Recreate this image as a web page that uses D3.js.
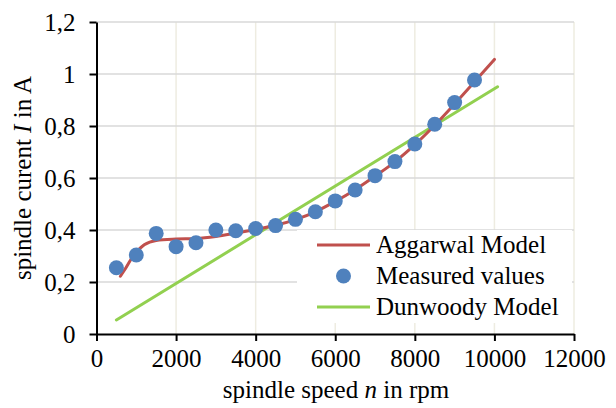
<!DOCTYPE html>
<html>
<head>
<meta charset="utf-8">
<script src="https://cdn.jsdelivr.net/npm/d3@7"></script>
<style>
  body { margin: 0; background: #fff; }
  text { font-family: "Liberation Serif", "DejaVu Serif", serif; fill: #000; }
</style>
</head>
<body>
<script>
// chart data
var measuredSpeed = [500, 1000, 1500, 2000, 2500, 3000, 3500, 4000, 4500, 5000, 5500, 6000, 6500, 7000, 7500, 8000, 8500, 9000, 9500];
var measuredCurrent = [0.255, 0.304, 0.387, 0.336, 0.351, 0.400, 0.397, 0.406, 0.417, 0.441, 0.470, 0.512, 0.554, 0.609, 0.663, 0.731, 0.807, 0.890, 0.977];

var aggarwalSpeed = [600, 700, 900, 1200, 1500, 2000, 2500, 3000, 3500, 4000, 4500, 5000, 5500, 6000, 6500, 7000, 7500, 8000, 8500, 9000, 9500, 10000];
var aggarwalCurrent = [0.222, 0.245, 0.295, 0.343, 0.360, 0.365, 0.367, 0.375, 0.388, 0.402, 0.418, 0.440, 0.470, 0.510, 0.555, 0.607, 0.662, 0.728, 0.803, 0.885, 0.970, 1.056];

var dunwoodySpeed = [500, 10080];
var dunwoodyCurrent = [0.054, 0.951];

var xTicks = [0, 2000, 4000, 6000, 8000, 10000, 12000];
var yTicks = [0, 0.2, 0.4, 0.6, 0.8, 1, 1.2];

var legendNames = ["Aggarwal Model", "Measured values", "Dunwoody Model"];

var width = 616, height = 408;
var mLeft = 96.5, mRight = 574, mTop = 22, mBottom = 334;
var fs = "25px";

var svg = d3.select("body").append("svg")
  .attr("width", width)
  .attr("height", height);

var x = d3.scaleLinear().domain([0, 12000]).range([mLeft, mRight]);
var y = d3.scaleLinear().domain([0, 1.2]).range([mBottom, mTop]);

// gridlines
svg.append("g").selectAll("line")
  .data(xTicks.slice(1))
  .enter().append("line")
  .attr("x1", d => x(d)).attr("x2", d => x(d))
  .attr("y1", mTop).attr("y2", mBottom)
  .attr("stroke", "#eeece1").attr("stroke-width", 1.5);

svg.append("g").selectAll("line")
  .data(yTicks.slice(1))
  .enter().append("line")
  .attr("x1", mLeft).attr("x2", mRight)
  .attr("y1", d => y(d)).attr("y2", d => y(d))
  .attr("stroke", "#d9d9d9").attr("stroke-width", 1.5);

var fmt = d => String(d).replace(".", ",");

// axes
var xAxis = svg.append("g")
  .attr("transform", "translate(0," + mBottom + ")")
  .call(d3.axisBottom(x).tickValues(xTicks).tickFormat(d => d).tickSize(7).tickPadding(8).tickSizeOuter(0));
var yAxis = svg.append("g")
  .attr("transform", "translate(" + mLeft + ",0)")
  .call(d3.axisLeft(y).tickValues(yTicks).tickFormat(fmt).tickSize(7).tickPadding(14).tickSizeOuter(0));

[xAxis, yAxis].forEach(function(a) {
  a.select(".domain").attr("stroke", "#000").attr("stroke-width", 2);
  a.selectAll(".tick line").attr("stroke", "#000").attr("stroke-width", 2);
  a.selectAll(".tick text").attr("font-family", null).style("font-size", fs).attr("fill", "#000");
});

// series
var line = d3.line().x(d => x(d[0])).y(d => y(d[1]));

svg.append("path")
  .datum(d3.zip(dunwoodySpeed, dunwoodyCurrent))
  .attr("d", line)
  .attr("fill", "none").attr("stroke", "#92d050").attr("stroke-width", 3).attr("stroke-linecap", "round");

svg.append("path")
  .datum(d3.zip(aggarwalSpeed, aggarwalCurrent))
  .attr("d", line.curve(d3.curveMonotoneX))
  .attr("fill", "none").attr("stroke", "#c0504d").attr("stroke-width", 3).attr("stroke-linecap", "round");

svg.append("g").selectAll("circle")
  .data(d3.zip(measuredSpeed, measuredCurrent))
  .enter().append("circle")
  .attr("cx", d => x(d[0]))
  .attr("cy", d => y(d[1]))
  .attr("r", 7.5)
  .attr("fill", "#4f81bd");

// legend
var lg = svg.append("g");
lg.append("rect").attr("x", 297).attr("y", 230).attr("width", 275).attr("height", 93).attr("fill", "#fff");
var rowY = [245, 276, 307];
lg.append("line").attr("x1", 317).attr("x2", 370).attr("y1", rowY[0]).attr("y2", rowY[0])
  .attr("stroke", "#c0504d").attr("stroke-width", 3);
lg.append("circle").attr("cx", 343.5).attr("cy", rowY[1]).attr("r", 7.5).attr("fill", "#4f81bd");
lg.append("line").attr("x1", 317).attr("x2", 370).attr("y1", rowY[2]).attr("y2", rowY[2])
  .attr("stroke", "#92d050").attr("stroke-width", 3);
lg.selectAll("text.lab")
  .data(legendNames)
  .enter().append("text")
  .attr("class", "lab")
  .attr("x", 376)
  .attr("y", (d, i) => rowY[i] + 8)
  .style("font-size", fs)
  .text(d => d);

// axis titles
var xt = svg.append("text")
  .attr("x", 336).attr("y", 398)
  .attr("text-anchor", "middle")
  .style("font-size", fs);
xt.append("tspan").text("spindle speed ");
xt.append("tspan").attr("font-style", "italic").text("n");
xt.append("tspan").text(" in rpm");

var yt = svg.append("text")
  .attr("transform", "translate(31,178) rotate(-90)")
  .attr("text-anchor", "middle")
  .style("font-size", fs);
yt.append("tspan").text("spindle curent ");
yt.append("tspan").attr("font-style", "italic").text("I");
yt.append("tspan").text(" in A");
</script>
</body>
</html>
